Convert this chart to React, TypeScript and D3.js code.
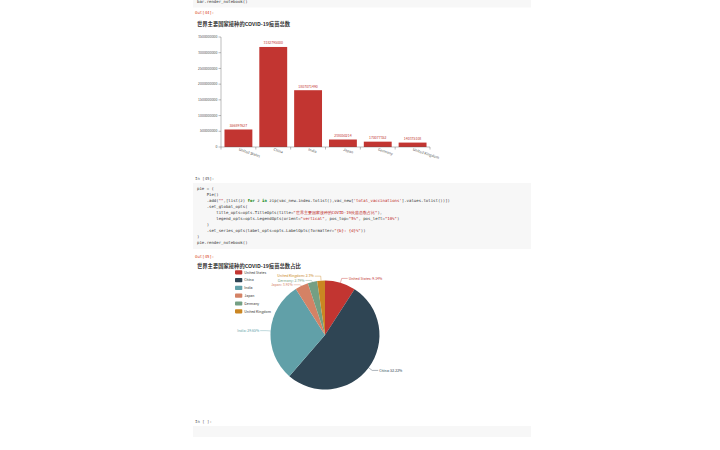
import React from 'react';
import * as d3 from 'd3';

// values
const countries = ['United States', 'China', 'India', 'Japan', 'Germany', 'United Kingdom'];
const totalVaccinations = [556897627, 3182795000, 1807071490, 238050214, 170077352, 140375108];
const yTicks = [0, 500000000, 1000000000, 1500000000, 2000000000, 2500000000, 3000000000, 3500000000];
const pieColors = ['#c23531', '#2f4554', '#61a0a8', '#d48265', '#749f83', '#ca8622'];

const barTitle = '世界主要国家接种的COVID-19疫苗总数';
const pieTitle = '世界主要国家接种的COVID-19疫苗总数占比';

const K = '#008000';
const S = '#ba2121';
const N = '#333333';
const codeLines: [string, string][][] = [
  [['pie = (', N]],
  [['    Pie()', N]],
  [['    .add(', N], ['""', S], [',[list(z) ', N], ['for', K], [' z ', N], ['in', K], [' zip(vac_new.index.tolist(),vac_new[', N], ["'total_vaccinations'", S], ['].values.tolist())])', N]],
  [['    .set_global_opts(', N]],
  [['        title_opts=opts.TitleOpts(title=', N], ['"世界主要国家接种的COVID-19疫苗总数占比"', S], ['),', N]],
  [['        legend_opts=opts.LegendOpts(orient=', N], ['"vertical"', S], [', pos_top=', N], ['"5%"', S], [', pos_left=', N], ['"10%"', S], [')', N]],
  [['    )', N]],
  [['    .set_series_opts(label_opts=opts.LabelOpts(formatter=', N], ['"{b}: {d}%"', S], ['))', N]],
  [[')', N]],
  [['pie.render_notebook()', N]],
];

const mono = '"DejaVu Sans Mono", monospace';
const sans = '"Noto Sans CJK SC", "Noto Sans", sans-serif';

function BarChart() {
  const x = d3.scaleBand<string>().domain(countries).range([221, 430]).paddingInner(0.2).paddingOuter(0.1);
  const y = d3.scaleLinear().domain([0, 3500000000]).range([147, 37]);
  const step = x.step();
  return (
    <g>
      {yTicks.map(t => (
        <g key={t}>
          <line x1={218.5} x2={221} y1={y(t)} y2={y(t)} stroke="#555" strokeWidth={0.4} />
          <text x={217.5} y={y(t) + 1.2} fontSize={3.5} fill="#555" textAnchor="end" fontFamily={sans}>{t}</text>
        </g>
      ))}
      <line x1={221} x2={221} y1={37} y2={147} stroke="#555" strokeWidth={0.4} />
      {countries.map((c, i) => (
        <g key={c}>
          <rect x={x(c)} y={y(totalVaccinations[i])} width={x.bandwidth()} height={147 - y(totalVaccinations[i])} fill="#c23531" />
          <text x={x(c)! + x.bandwidth() / 2} y={y(totalVaccinations[i]) - 2.5} fontSize={3.5} fill="#c23531" textAnchor="middle" fontFamily={sans}>{totalVaccinations[i]}</text>
          <text transform={`translate(${x(c)! + x.bandwidth() / 2},${150.5}) rotate(18)`} fontSize={3.6} fill="#555" fontFamily={sans}>{c}</text>
        </g>
      ))}
      {d3.range(countries.length + 1).map(i => (
        <line key={i} x1={221 + i * step} x2={221 + i * step} y1={147} y2={149.5} stroke="#555" strokeWidth={0.4} />
      ))}
      <line x1={221} x2={430} y1={147} y2={147} stroke="#555" strokeWidth={0.4} />
    </g>
  );
}

function PieChart() {
  const cx = 325, cy = 335, R = 54.5;
  const total = d3.sum(totalVaccinations);
  const arcs = d3.pie<number>().sort(null)(totalVaccinations);
  const arc = d3.arc<d3.PieArcDatum<number>>().innerRadius(0).outerRadius(R);

  const labels = arcs.map((a, i) => {
    const mid = (a.startAngle + a.endAngle) / 2;
    const sx = Math.sin(mid), sy = -Math.cos(mid);
    const side = sx >= 0 ? 1 : -1;
    return {
      i, side,
      p1: [R * sx, R * sy],
      p2: [(R + 4.5) * sx, (R + 4.5) * sy],
      ly: (R + 4.5) * sy,
    };
  });
  // push overlapping labels apart, per side
  [1, -1].forEach(side => {
    const group = labels.filter(l => l.side === side).sort((a, b) => a.ly - b.ly);
    for (let k = 1; k < group.length; k++) {
      if (group[k].ly - group[k - 1].ly < 4.3) group[k].ly = group[k - 1].ly + 4.3;
    }
  });

  return (
    <g>
      <g transform={`translate(${cx},${cy})`}>
        {arcs.map((a, i) => (
          <path key={i} d={arc(a)!} fill={pieColors[i]} />
        ))}
        {labels.map(l => {
          const x3 = l.p2[0] + l.side * 6;
          const pct = (totalVaccinations[l.i] / total) * 100;
          return (
            <g key={l.i}>
              <polyline points={`${l.p1[0]},${l.p1[1]} ${l.p2[0]},${l.ly} ${x3},${l.ly}`} fill="none" stroke={pieColors[l.i]} strokeWidth={0.4} />
              <text x={x3 + l.side * 1} y={l.ly + 1.2} fontSize={3.5} fill={pieColors[l.i]} textAnchor={l.side > 0 ? 'start' : 'end'} fontFamily={sans}>
                {`${countries[l.i]}: ${+pct.toFixed(2)}%`}
              </text>
            </g>
          );
        })}
      </g>
      {countries.map((c, i) => (
        <g key={c} transform={`translate(235,${272.3 + i * 7.8})`}>
          <rect x={0} y={-2.1} width={7.3} height={4.2} rx={0.8} fill={pieColors[i]} />
          <text x={9.3} y={1.2} fontSize={3.5} fill="#333" fontFamily={sans}>{c}</text>
        </g>
      ))}
    </g>
  );
}

export default function App() {
  return (
    <svg width={720} height={450} viewBox="0 0 720 450" style={{ position: 'absolute', left: 0, top: 0, background: '#fff' }}>
      <rect x={0} y={0} width={720} height={450} fill="#fff" />
      {/* previous cell */}
      <rect x={193} y={-2} width={338} height={9.5} fill="#f7f7f7" />
      <text x={197} y={3.2} fontSize={4} fill="#333" fontFamily={mono}>bar.render_notebook()</text>
      <text x={195} y={13.5} fontSize={4} fill="#d84315" fontFamily={mono}>Out[44]:</text>
      <text x={197} y={25.5} fontSize={5.3} fontWeight="bold" fill="#333" fontFamily={sans}>{barTitle}</text>
      <BarChart />

      {/* pie cell */}
      <text x={195} y={179.5} fontSize={4} fill="#555" fontFamily={mono}>In [45]:</text>
      <rect x={193} y={183} width={338} height={66} fill="#f7f7f7" />
      {codeLines.map((line, i) => (
        <text key={i} x={197} y={189.5 + i * 6.1} fontSize={4} fontFamily={mono} xmlSpace="preserve" style={{ whiteSpace: 'pre' }}>
          {line.map(([t, c], j) => (
            <tspan key={j} fill={c} fontWeight={c === K ? 'bold' : 'normal'}>{t}</tspan>
          ))}
        </text>
      ))}
      <text x={195} y={257.5} fontSize={4} fill="#d84315" fontFamily={mono}>Out[45]:</text>
      <text x={197} y={268} fontSize={5.3} fontWeight="bold" fill="#333" fontFamily={sans}>{pieTitle}</text>
      <PieChart />

      {/* empty cell */}
      <text x={195} y={422.5} fontSize={4} fill="#555" fontFamily={mono}>In [ ]:</text>
      <rect x={193} y={426} width={338} height={11} fill="#f7f7f7" />
    </svg>
  );
}
